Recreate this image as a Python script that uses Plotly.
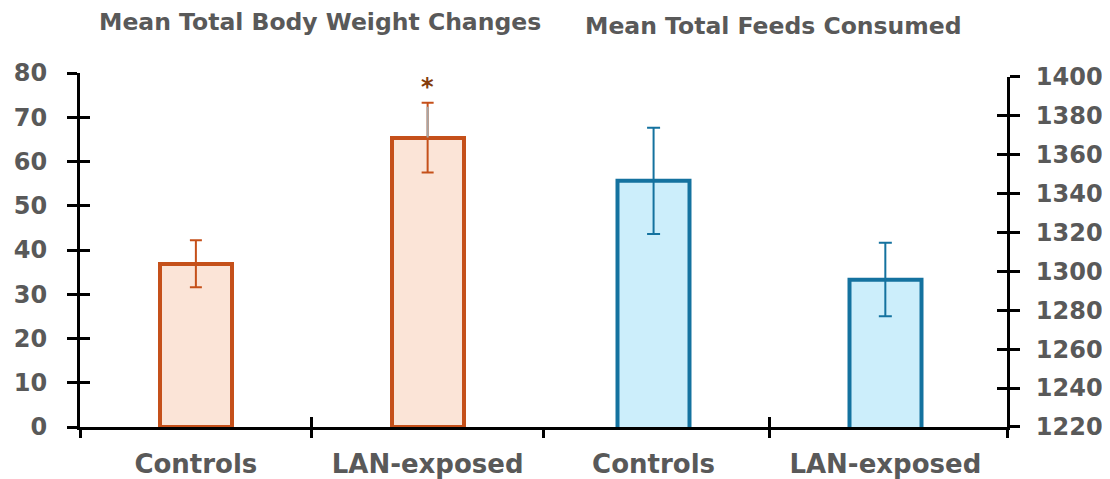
import plotly.graph_objects as go

# ---- data ----
categories = ["Controls", "LAN-exposed"]
bw_mean = [36.9, 65.4]          # Mean Total Body Weight Changes
bw_err = [5.3, 7.9]
bw_err_gray = [0, 7.0]          # grey part of the LAN-exposed upper whisker
feed_mean = [1346.5, 1295.8]    # Mean Total Feeds Consumed
feed_err = [27.3, 18.9]
bw_ticks = [0, 10, 20, 30, 40, 50, 60, 70, 80]
feed_ticks = [1220, 1240, 1260, 1280, 1300, 1320, 1340, 1360, 1380, 1400]
titles = ["Mean Total Body Weight Changes", "Mean Total Feeds Consumed"]
sig_mark = "*"

# ---- style ----
FONT = "DejaVu Sans"
GRAY = "#595959"
ORANGE = "#C5501A"
ORANGE_FILL = "#FBE4D7"
BLUE = "#14729F"
BLUE_FILL = "#CCEEFB"
STAR = "#843C0C"
LW = 3
TL = 10

xpos = list(range(len(categories)))
x_left_range = [-0.5, 1.5]
x_right_range = [-0.475, 1.525]
interior = [i + 0.5 for i in xpos[:-1]]
left_bounds = [x_left_range[0]] + interior + [x_left_range[1]]
right_bounds = interior + [x_right_range[1]]

fig = go.Figure()
fig.add_trace(go.Bar(
    x=xpos, y=bw_mean, width=0.31, xaxis="x", yaxis="y",
    marker=dict(color=ORANGE_FILL, line=dict(color=ORANGE, width=4)),
    error_y=dict(type="data", array=bw_err, color=ORANGE, thickness=2, width=6),
    showlegend=False, hoverinfo="skip"))
fig.add_trace(go.Scatter(
    x=xpos, y=bw_mean, mode="markers", marker=dict(size=0.1, opacity=0),
    xaxis="x", yaxis="y",
    error_y=dict(type="data", array=bw_err_gray, arrayminus=[0, 0],
                 color="#A6A6A6", thickness=2, width=0),
    showlegend=False, hoverinfo="skip"))
fig.add_trace(go.Bar(
    x=xpos, y=feed_mean, width=0.31, xaxis="x2", yaxis="y2",
    marker=dict(color=BLUE_FILL, line=dict(color=BLUE, width=4)),
    error_y=dict(type="data", array=feed_err, color=BLUE, thickness=2, width=6.5),
    showlegend=False, hoverinfo="skip"))

# invisible helper traces so the tick-only overlay axes get drawn
for xa, ya, yv in [("x3", "y", bw_ticks[0]), ("x5", "y", bw_ticks[0]),
                   ("x", "y3", bw_ticks[0]), ("x4", "y2", feed_ticks[0]),
                   ("x6", "y2", feed_ticks[0]), ("x2", "y4", feed_ticks[0])]:
    fig.add_trace(go.Scatter(x=[xpos[0]], y=[yv], xaxis=xa, yaxis=ya, mode="markers",
                             marker=dict(size=1, opacity=0), showlegend=False,
                             hoverinfo="skip"))

tickfont = dict(family=FONT, size=24, color=GRAY, weight="bold")
catfont = dict(family=FONT, size=26, color=GRAY, weight="bold")

common_x = dict(showgrid=False, zeroline=False, fixedrange=True, automargin=False)
tick_x = dict(ticklen=TL, tickwidth=LW, tickcolor="black", showticklabels=False,
              showline=False, **common_x)

# the page body has an 8px margin, so the figure is sized/placed to compensate
layout = dict(
    width=1102, height=471,
    margin=dict(l=72, r=103, t=65, b=52, autoexpand=False),
    paper_bgcolor="white", plot_bgcolor="white",
    bargap=0,
    xaxis=dict(domain=[0, 0.5], range=x_left_range, anchor="y",
               tickvals=xpos, ticktext=categories, ticks="", tickfont=catfont,
               ticklabelstandoff=12,
               showline=True, linecolor="black", linewidth=LW, **common_x),
    xaxis2=dict(domain=[0.5, 1], range=x_right_range, anchor="y2",
                tickvals=xpos, ticktext=categories, ticks="", tickfont=catfont,
                ticklabelstandoff=12,
                showline=True, linecolor="black", linewidth=LW, **common_x),
    xaxis3=dict(overlaying="x", anchor="y", range=x_left_range,
                tickvals=left_bounds, ticks="outside", **tick_x),
    xaxis5=dict(overlaying="x", anchor="y", range=x_left_range,
                tickvals=interior + [x_left_range[1]], ticks="inside", **tick_x),
    xaxis4=dict(overlaying="x2", anchor="y2", range=x_right_range,
                tickvals=right_bounds, ticks="outside", **tick_x),
    xaxis6=dict(overlaying="x2", anchor="y2", range=x_right_range,
                tickvals=interior, ticks="inside", **tick_x),
    yaxis=dict(domain=[0, 1], range=[bw_ticks[0], bw_ticks[-1]], anchor="x",
               tickvals=bw_ticks, ticks="outside", ticklen=TL, tickwidth=LW,
               tickcolor="black", tickfont=tickfont, ticklabelstandoff=15,
               showline=True, linecolor="black", linewidth=LW, **common_x),
    yaxis3=dict(overlaying="y", anchor="x", side="left",
                range=[bw_ticks[0], bw_ticks[-1]], tickvals=bw_ticks,
                ticks="inside", **tick_x),
    yaxis2=dict(domain=[0, 0.9895], range=[feed_ticks[0], feed_ticks[-1]],
                anchor="x2", side="right",
                tickvals=feed_ticks, ticks="outside", ticklen=TL, tickwidth=LW,
                tickcolor="black", tickfont=tickfont, ticklabelstandoff=11,
                showline=True, linecolor="black", linewidth=LW, **common_x),
    yaxis4=dict(overlaying="y2", anchor="x2", side="right",
                range=[feed_ticks[0], feed_ticks[-1]], tickvals=feed_ticks,
                ticks="inside", **tick_x),
)
fig.update_layout(**layout)

fig.add_annotation(text=titles[0], xref="paper", yref="paper", x=0.2594, y=1,
                   xanchor="center", yanchor="middle", yshift=51, showarrow=False,
                   font=dict(family=FONT, size=23.5, color=GRAY, weight="bold"))
fig.add_annotation(text=titles[1], xref="paper", yref="paper", x=0.7476, y=1,
                   xanchor="center", yanchor="middle", yshift=47, showarrow=False,
                   font=dict(family=FONT, size=23.5, color=GRAY, weight="bold"))
fig.add_annotation(text=sig_mark, xref="x", yref="y", x=xpos[1],
                   y=bw_mean[1] + bw_err[1], yanchor="bottom", yshift=0,
                   showarrow=False, font=dict(family=FONT, size=24, color=STAR, weight="bold"))

fig.write_html("out.html")
